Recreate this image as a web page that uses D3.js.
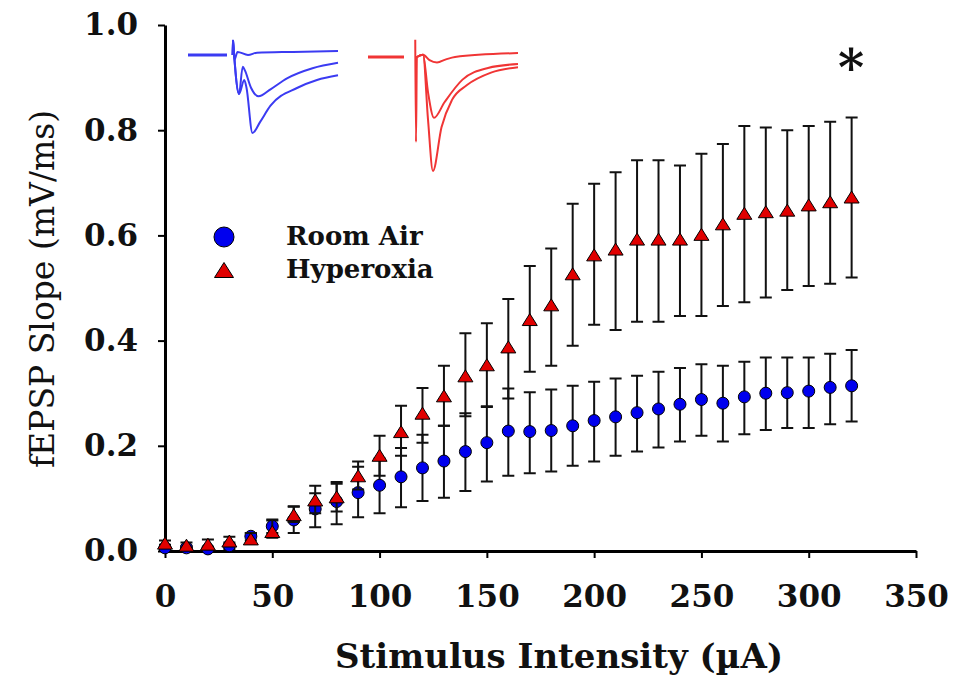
<!DOCTYPE html>
<html>
<head>
<meta charset="utf-8">
<script src="https://cdn.jsdelivr.net/npm/d3@7"></script>
<style>
  body { margin: 0; background: #fff; }
  svg { display: block; }
  text { font-family: "DejaVu Serif", serif; }
</style>
</head>
<body>
<div id="chart"></div>
<script>
// Stimulus intensity (uA) for every point
var intensity = [0, 10, 20, 30, 40, 50, 60, 70, 80, 90, 100, 110, 120, 130, 140, 150, 160,
                 170, 180, 190, 200, 210, 220, 230, 240, 250, 260, 270, 280, 290, 300, 310, 320];

// Room Air: mean and the top / bottom of the error bar
var roomMean = [0.006, 0.006, 0.004, 0.010, 0.028, 0.047, 0.059, 0.080, 0.094, 0.111, 0.125, 0.141, 0.158, 0.171, 0.189, 0.206, 0.228,
                0.227, 0.229, 0.238, 0.248, 0.255, 0.263, 0.270, 0.279, 0.288, 0.281, 0.293, 0.300, 0.301, 0.304, 0.311, 0.314];
var roomHi = [0.012, 0.010, 0.008, 0.016, 0.034, 0.058, 0.085, 0.110, 0.128, 0.160, 0.176, 0.196, 0.221, 0.238, 0.262, 0.275, 0.309,
              0.302, 0.307, 0.314, 0.322, 0.328, 0.333, 0.341, 0.348, 0.355, 0.352, 0.360, 0.368, 0.368, 0.368, 0.375, 0.382];
var roomLo = [0.002, 0.002, 0.001, 0.004, 0.020, 0.034, 0.034, 0.045, 0.051, 0.064, 0.072, 0.083, 0.095, 0.101, 0.114, 0.132, 0.143,
              0.148, 0.151, 0.162, 0.170, 0.181, 0.189, 0.197, 0.208, 0.219, 0.208, 0.222, 0.230, 0.234, 0.234, 0.241, 0.246];

// Hyperoxia: mean and the top / bottom of the error bar
var hyperMean = [0.015, 0.011, 0.013, 0.019, 0.023, 0.037, 0.069, 0.097, 0.103, 0.143, 0.182, 0.227, 0.262, 0.295, 0.333, 0.354, 0.388,
                 0.440, 0.468, 0.527, 0.563, 0.574, 0.593, 0.593, 0.593, 0.602, 0.622, 0.642, 0.645, 0.648, 0.658, 0.664, 0.673];
var hyperHi = [0.020, 0.016, 0.022, 0.027, 0.034, 0.060, 0.084, 0.124, 0.131, 0.170, 0.219, 0.276, 0.310, 0.352, 0.414, 0.433, 0.479,
               0.542, 0.575, 0.660, 0.698, 0.720, 0.743, 0.743, 0.733, 0.755, 0.774, 0.808, 0.805, 0.800, 0.808, 0.816, 0.824];
var hyperLo = [0.010, 0.006, 0.005, 0.011, 0.014, 0.025, 0.055, 0.072, 0.075, 0.117, 0.143, 0.181, 0.206, 0.238, 0.256, 0.274, 0.290,
               0.341, 0.352, 0.390, 0.430, 0.420, 0.436, 0.436, 0.447, 0.447, 0.466, 0.473, 0.482, 0.496, 0.504, 0.508, 0.520];

var xTicks = [0, 50, 100, 150, 200, 250, 300, 350];
var yTicks = [0, 0.2, 0.4, 0.6, 0.8, 1.0];
var seriesNames = ["Room Air", "Hyperoxia"];

// Example field potential traces, [time, voltage] in arbitrary inset units
var roomTraces = [
  [[0, 0], [26, 0]],
  [[29.5, 0], [30, 0.19], [31, -0.06], [33, 0.04], [40, 0.0], [46, 0.03], [70, 0.04], [100, 0.05]],
  [[30, 0.19], [34, -0.5], [36.5, -0.15], [38, -0.2], [42, -0.42], [47, -0.53], [55, -0.44], [66, -0.3], [83, -0.17], [100, -0.1]],
  [[30, 0.19], [34, -0.5], [37.5, -0.32], [39, -0.42], [43, -1.0], [48, -0.86], [55, -0.65], [73, -0.42], [86, -0.32], [100, -0.26]]
];
var hyperTraces = [
  [[0, 0], [24, 0]],
  [[31.5, 0.22], [32, -1.09], [32.6, 0.0], [36.7, 0.03], [41, -0.04], [46, -0.07], [52, -0.03], [58, 0.0], [100, 0.05]],
  [[32.6, 0.0], [36.7, 0.03], [40, -0.45], [44, -0.78], [51, -0.58], [63, -0.29], [80, -0.14], [100, -0.09]],
  [[32.6, 0.0], [36.7, 0.03], [40, -0.8], [43.3, -1.46], [49, -0.9], [56, -0.55], [66, -0.36], [82, -0.2], [100, -0.13]]
];

var width = 953, height = 678;
var blue = "#0000ee", red = "#e00000";

var svg = d3.select("#chart").append("svg")
  .attr("width", width)
  .attr("height", height);

var x = d3.scaleLinear().domain([0, 350]).range([165, 916]);
var y = d3.scaleLinear().domain([0, 1]).range([551, 25]);

// axes
var xAxis = svg.append("g")
  .attr("transform", "translate(0," + y(0) + ")")
  .call(d3.axisBottom(x).tickValues(xTicks).tickSize(7).tickSizeOuter(0).tickPadding(30));
var yAxis = svg.append("g")
  .attr("transform", "translate(" + x(0) + ",0)")
  .call(d3.axisLeft(y).tickValues(yTicks).tickSize(7).tickSizeOuter(0).tickPadding(20)
    .tickFormat(d3.format(".1f")));

[xAxis, yAxis].forEach(function(g) {
  g.select(".domain").attr("stroke", "#000").attr("stroke-width", 3);
  g.selectAll(".tick line").attr("stroke", "#000").attr("stroke-width", 2);
  g.selectAll(".tick text")
    .attr("fill", "#111")
    .style("font-family", "'DejaVu Serif', serif")
    .style("font-weight", "bold")
    .style("font-size", "31px");
});
xAxis.selectAll(".tick text").attr("dy", "0.62em");

// axis titles
svg.append("text")
  .attr("x", 559).attr("y", 668)
  .attr("text-anchor", "middle")
  .style("font-size", "34px")
  .style("font-weight", "bold")
  .attr("fill", "#111")
  .text("Stimulus Intensity (\u00b5A)");

svg.append("text")
  .attr("transform", "translate(54,289) rotate(-90)")
  .attr("text-anchor", "middle")
  .style("font-size", "33px")
  .attr("fill", "#111")
  .text("fEPSP Slope (mV/ms)");

// error bars + markers, one series at a time
function drawSeries(mean, hi, lo, shape, fill) {
  var g = svg.append("g");
  var pts = intensity.map(function(d, i) {
    return { x: d, m: mean[i], hi: hi[i], lo: lo[i] };
  });

  g.selectAll(".bar").data(pts).enter().append("path")
    .attr("d", function(d) {
      var cx = x(d.x), t = y(d.hi), b = y(d.lo);
      return "M" + (cx - 6) + "," + t + "H" + (cx + 6) +
             "M" + cx + "," + t + "V" + b +
             "M" + (cx - 6) + "," + b + "H" + (cx + 6);
    })
    .attr("fill", "none")
    .attr("stroke", "#111")
    .attr("stroke-width", 2);

  if (shape == "circle") {
    g.selectAll(".pt").data(pts).enter().append("circle")
      .attr("cx", function(d) { return x(d.x); })
      .attr("cy", function(d) { return y(d.m); })
      .attr("r", 6)
      .attr("fill", fill)
      .attr("stroke", "#000")
      .attr("stroke-width", 1);
  } else {
    g.selectAll(".pt").data(pts).enter().append("path")
      .attr("d", function(d) { return triangle(x(d.x), y(d.m), 15, 12); })
      .attr("fill", fill)
      .attr("stroke", "#000")
      .attr("stroke-width", 1);
  }
}

function triangle(cx, cy, w, h) {
  return "M" + cx + "," + (cy - h / 2) + "L" + (cx + w / 2) + "," + (cy + h / 2) +
         "L" + (cx - w / 2) + "," + (cy + h / 2) + "Z";
}

drawSeries(roomMean, roomHi, roomLo, "circle", blue);
drawSeries(hyperMean, hyperHi, hyperLo, "triangle", red);

// legend
var legend = svg.append("g");
legend.append("circle").attr("cx", 224).attr("cy", 237).attr("r", 10)
  .attr("fill", blue).attr("stroke", "#000").attr("stroke-width", 1);
legend.append("path").attr("d", triangle(224, 270, 19, 15))
  .attr("fill", red).attr("stroke", "#000").attr("stroke-width", 1);
legend.selectAll(".lab").data(seriesNames).enter().append("text")
  .attr("x", 286)
  .attr("y", function(d, i) { return 245 + i * 33; })
  .style("font-size", "26px")
  .style("font-weight", "bold")
  .attr("fill", "#111")
  .text(function(d) { return d; });

// significance mark
svg.append("text")
  .attr("x", 851).attr("y", 85)
  .attr("text-anchor", "middle")
  .style("font-size", "50px")
  .style("font-weight", "bold")
  .attr("fill", "#111")
  .text("*");

// inset traces
function drawTraces(traces, x0, y0, color) {
  var tx = d3.scaleLinear().domain([0, 100]).range([x0, x0 + 150]);
  var ty = d3.scaleLinear().domain([0, -1]).range([y0, y0 + 78]);
  var straight = d3.line()
    .x(function(d) { return tx(d[0]); })
    .y(function(d) { return ty(d[1]); });
  var smooth = straight.curve(d3.curveMonotoneX);
  svg.append("g").selectAll("path").data(traces).enter().append("path")
    .attr("d", function(d, i) { return i == 0 ? d3.line().x(function(p) { return tx(p[0]); }).y(function(p) { return ty(p[1]); })(d) : smooth(d); })
    .attr("fill", "none")
    .attr("stroke", color)
    .attr("stroke-width", function(d, i) { return i == 0 ? 3 : 2; });
}

drawTraces(roomTraces, 188, 55, "#3b3bf2");
drawTraces(hyperTraces, 368, 57, "#f03535");
</script>
</body>
</html>
